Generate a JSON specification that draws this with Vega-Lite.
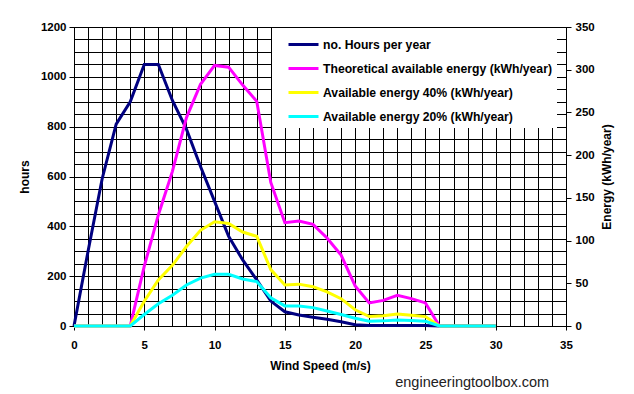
{
  "$schema": "https://vega.github.io/schema/vega-lite/v6.json",
  "width": 492,
  "height": 299,
  "autosize": {"type": "none"},
  "padding": {"left": 74, "top": 27, "right": 68, "bottom": 68},
  "background": "white",
  "config": {
    "font": "Liberation Sans",
    "view": {"stroke": "black", "strokeWidth": 1},
    "axis": {
      "labelFont": "Liberation Sans",
      "labelFontSize": 11.5,
      "labelFontWeight": "bold",
      "labelColor": "black",
      "titleFont": "Liberation Sans",
      "titleFontSize": 12,
      "titleFontWeight": "bold",
      "titleColor": "black",
      "domainColor": "black",
      "tickColor": "black",
      "gridColor": "black",
      "gridOpacity": 1,
      "gridWidth": 1
    },
    "legend": {
      "orient": "none",
      "legendX": 198,
      "legendY": 1,
      "fillColor": "white",
      "padding": 5,
      "symbolType": "M-1.5,0H1.5",
      "symbolSize": 400,
      "symbolStrokeWidth": 3,
      "symbolOffset": 15,
      "labelOffset": 8,
      "rowPadding": 6,
      "labelFont": "Liberation Sans",
      "labelFontSize": 12.2,
      "labelFontWeight": "bold",
      "labelColor": "black",
      "labelLimit": 400
    }
  },
  "title": {
    "text": "engineeringtoolbox.com",
    "orient": "bottom",
    "anchor": "end",
    "font": "Liberation Sans",
    "fontSize": 14.5,
    "fontWeight": "normal",
    "color": "#222222",
    "offset": 4,
    "dx": -63
  },
  "data": {
    "values": [
      {"v": 0, "hours": 0, "theo": 0, "e40": 0, "e20": 0},
      {"v": 1, "hours": 300, "theo": 0, "e40": 0, "e20": 0},
      {"v": 2, "hours": 590, "theo": 0, "e40": 0, "e20": 0},
      {"v": 3, "hours": 810, "theo": 0, "e40": 0, "e20": 0},
      {"v": 4, "hours": 900, "theo": 0, "e40": 0, "e20": 0},
      {"v": 5, "hours": 1050, "theo": 70, "e40": 29, "e20": 13.5},
      {"v": 6, "hours": 1050, "theo": 130, "e40": 54, "e20": 26},
      {"v": 7, "hours": 905, "theo": 181, "e40": 71, "e20": 36},
      {"v": 8, "hours": 790, "theo": 244, "e40": 93, "e20": 48},
      {"v": 9, "hours": 640, "theo": 283, "e40": 112, "e20": 56},
      {"v": 10, "hours": 500, "theo": 305, "e40": 122, "e20": 60.5},
      {"v": 11, "hours": 360, "theo": 303, "e40": 120, "e20": 60.5},
      {"v": 12, "hours": 265, "theo": 282, "e40": 110, "e20": 55},
      {"v": 13, "hours": 185, "theo": 263, "e40": 105, "e20": 52},
      {"v": 14, "hours": 100, "theo": 168, "e40": 66, "e20": 33},
      {"v": 15, "hours": 57, "theo": 121, "e40": 48, "e20": 23.5},
      {"v": 16, "hours": 44, "theo": 123, "e40": 49, "e20": 23.5},
      {"v": 17, "hours": 35, "theo": 119, "e40": 46, "e20": 21.5},
      {"v": 18, "hours": 27, "theo": 103, "e40": 40, "e20": 17.5},
      {"v": 19, "hours": 17, "theo": 83, "e40": 32, "e20": 13.5},
      {"v": 20, "hours": 5, "theo": 47, "e40": 19, "e20": 9},
      {"v": 21, "hours": 2, "theo": 27, "e40": 11, "e20": 5.5},
      {"v": 22, "hours": 2, "theo": 30, "e40": 12, "e20": 6},
      {"v": 23, "hours": 2, "theo": 36, "e40": 14, "e20": 7},
      {"v": 24, "hours": 2, "theo": 32, "e40": 12.5, "e20": 6.5},
      {"v": 25, "hours": 2, "theo": 27, "e40": 11, "e20": 5.5},
      {"v": 26, "hours": 0, "theo": 0, "e40": 0, "e20": 0},
      {"v": 27, "hours": 0, "theo": 0, "e40": 0, "e20": 0},
      {"v": 28, "hours": 0, "theo": 0, "e40": 0, "e20": 0},
      {"v": 29, "hours": 0, "theo": 0, "e40": 0, "e20": 0},
      {"v": 30, "hours": 0, "theo": 0, "e40": 0, "e20": 0}
    ]
  },
  "encoding": {
    "x": {
      "field": "v",
      "type": "quantitative",
      "scale": {"domain": [0, 35], "nice": false},
      "axis": {
        "title": "Wind Speed (m/s)",
        "values": [0,1,2,3,4,5,6,7,8,9,10,11,12,13,14,15,16,17,18,19,20,21,22,23,24,25,26,27,28,29,30,31,32,33,34,35],
        "labelExpr": "datum.value % 5 === 0 ? datum.label : ''",
        "grid": true,
        "tickSize": 4,
        "tickOpacity": {"condition": {"test": "datum.value % 5 === 0", "value": 1}, "value": 0},
        "labelPadding": 9,
        "titlePadding": 10,
        "labelFlush": false,
        "labelOverlap": false
      }
    }
  },
  "layer": [
    {
      "mark": {"type": "line", "strokeWidth": 3},
      "encoding": {
        "y": {
          "field": "hours",
          "type": "quantitative",
          "scale": {"domain": [0, 1200], "nice": false},
          "axis": {
            "title": "hours",
            "orient": "left",
            "format": "d",
            "values": [0,50,100,150,200,250,300,350,400,450,500,550,600,650,700,750,800,850,900,950,1000,1050,1100,1150,1200],
            "labelExpr": "datum.value % 200 === 0 ? datum.label : ''",
            "grid": true,
            "tickSize": 5,
            "tickOpacity": {"condition": {"test": "datum.value % 200 === 0", "value": 1}, "value": 0},
            "labelPadding": 3,
            "titlePadding": 9,
            "labelOverlap": false
          }
        },
        "color": {
          "datum": "no. Hours per year",
          "type": "nominal",
          "scale": {
            "domain": ["no. Hours per year", "Theoretical available energy (kWh/year)", "Available energy 40% (kWh/year)", "Available energy 20% (kWh/year)"],
            "range": ["#000080", "#FF00FF", "#FFFF00", "#00FFFF"]
          },
          "legend": {"title": null}
        }
      }
    },
    {
      "layer": [
        {
          "mark": {"type": "line", "strokeWidth": 3},
          "encoding": {
            "y": {
              "field": "theo",
              "type": "quantitative",
              "scale": {"domain": [0, 350], "nice": false},
              "axis": {
                "title": "Energy (kWh/year)",
                "orient": "right",
                "values": [0,50,100,150,200,250,300,350],
                "grid": false,
                "tickSize": 5,
                "labelPadding": 4,
                "titlePadding": 7,
                "titleAngle": 270,
                "titleBaseline": "top"
              }
            },
            "color": {"datum": "Theoretical available energy (kWh/year)", "type": "nominal"}
          }
        },
        {
          "mark": {"type": "line", "strokeWidth": 3},
          "encoding": {
            "y": {
              "field": "e40",
              "type": "quantitative",
              "scale": {"domain": [0, 350], "nice": false},
              "axis": {
                "title": "Energy (kWh/year)",
                "orient": "right",
                "values": [0,50,100,150,200,250,300,350],
                "grid": false,
                "tickSize": 5,
                "labelPadding": 4,
                "titlePadding": 7,
                "titleAngle": 270,
                "titleBaseline": "top"
              }
            },
            "color": {"datum": "Available energy 40% (kWh/year)", "type": "nominal"}
          }
        },
        {
          "mark": {"type": "line", "strokeWidth": 3},
          "encoding": {
            "y": {
              "field": "e20",
              "type": "quantitative",
              "scale": {"domain": [0, 350], "nice": false},
              "axis": {
                "title": "Energy (kWh/year)",
                "orient": "right",
                "values": [0,50,100,150,200,250,300,350],
                "grid": false,
                "tickSize": 5,
                "labelPadding": 4,
                "titlePadding": 7,
                "titleAngle": 270,
                "titleBaseline": "top"
              }
            },
            "color": {"datum": "Available energy 20% (kWh/year)", "type": "nominal"}
          }
        }
      ]
    }
  ],
  "resolve": {"scale": {"y": "independent"}}
}
